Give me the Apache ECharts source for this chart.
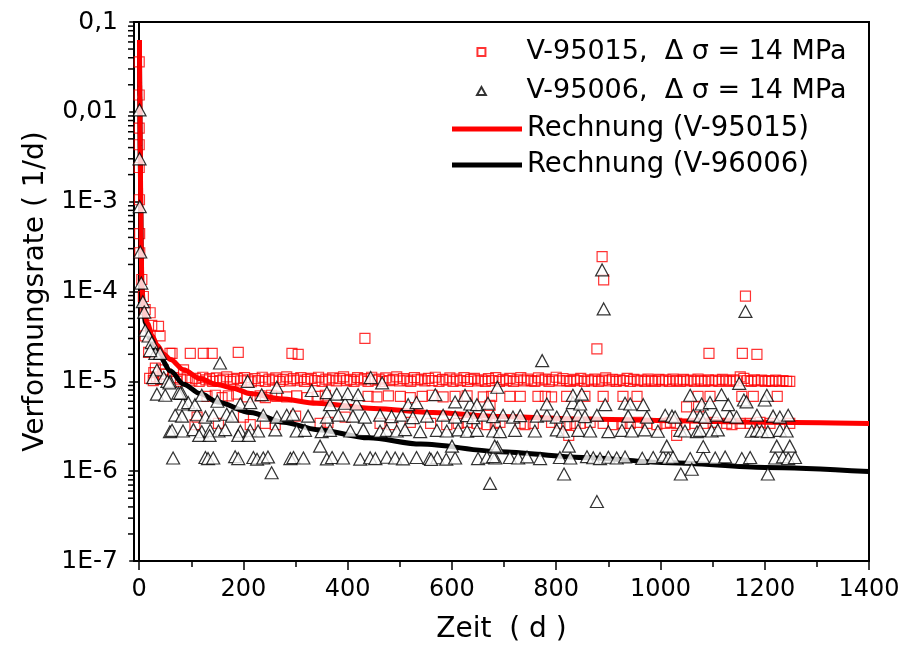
<!DOCTYPE html>
<html><head><meta charset="utf-8">
<script src="https://cdn.jsdelivr.net/npm/echarts@6/dist/echarts.min.js"></script>
<style>html,body{margin:0;padding:0;background:#fff}#c{width:905px;height:649px}</style>
</head><body><div id="c"></div>
<script>
// ---------- DATA ----------
const xTickValues = [0, 200, 400, 600, 800, 1000, 1200, 1400];
const xMinorTickValues = [100, 300, 500, 700, 900, 1100, 1300];
const yTickLabels = {'-1': '0,1', '-2': '0,01', '-3': '1E-3', '-4': '1E-4', '-5': '1E-5', '-6': '1E-6', '-7': '1E-7'};

const seriesNames = ['V-95015,  \u0394 \u03c3 = 14 MPa', 'V-95006,  \u0394 \u03c3 = 14 MPa', 'Rechnung (V-95015)', 'Rechnung (V-96006)'];

// red squares V-95015
const redEarly = [[0,0.036],[0,0.0154],[0,0.0066],[0,0.0043],[0,0.0024],[0.5,1.05e-3],[0.8,4.4e-4],[1,2.7e-4],[5,1.36e-4],[8,8.8e-5],[11.5,6.3e-5],[21,5.8e-5],[24,4.2e-5],[37,4.1e-5],[40,3.2e-5],[11.5,3.2e-5],[18,2.1e-5],[59,2.05e-5],[31,1.4e-5],[46,1.34e-5],[85,1.34e-5],[63,2.05e-5],[45,1.2e-5],[28,1.25e-5]];
const redBandHigh = [[20,1.08e-5],[27,1.02e-5],[33,1.12e-5],[41,1.05e-5],[52,1.2e-5],[66,1.1e-5],[72,1.0e-5],[79,1.06e-5],[92,1.1e-5],[101,1.03e-5],[108,1.08e-5],[115,1.0e-5],[122,1.11e-5],[128,1.04e-5],[135,1.07e-5],[141,1.0e-5],[148,1.09e-5],[155,1.02e-5],[161,1.06e-5],[168,1.12e-5],[175,1.0e-5],[181,1.05e-5],[188,1.08e-5],[195,1.01e-5],[202,1.1e-5],[208,1.04e-5],[215,0.99e-5],[222,1.07e-5],[229,1.02e-5],[236,1.11e-5],[242,1.0e-5],[249,1.06e-5],[256,1.03e-5],[262,1.09e-5],[269,1.0e-5],[276,1.05e-5],[283,1.12e-5],[290,1.01e-5],[296,1.07e-5],[303,1.03e-5],[310,1.1e-5],[317,1.0e-5],[323,1.05e-5],[330,1.08e-5],[337,1.02e-5],[344,1.11e-5],[351,1.0e-5],[358,1.06e-5],[364,1.03e-5],[371,1.09e-5],[378,1.01e-5],[385,1.07e-5],[392,1.12e-5],[398,1.02e-5],[405,1.05e-5],[412,1.0e-5],[419,1.1e-5],[426,1.04e-5],[432,1.07e-5],[439,1.0e-5],[446,1.11e-5],[453,1.03e-5],[460,1.06e-5],[466,1.0e-5],[473,1.09e-5],[480,1.02e-5],[487,1.05e-5],[494,1.12e-5],[500,1.01e-5],[507,1.07e-5],[514,1.03e-5],[521,1.0e-5],[528,1.1e-5],[534,1.04e-5],[541,1.06e-5],[548,1.01e-5],[555,1.08e-5],[562,1.02e-5],[568,1.11e-5],[575,1.0e-5],[582,1.05e-5],[589,1.03e-5],[596,1.09e-5],[602,1.0e-5],[609,1.06e-5],[616,1.02e-5],[623,1.1e-5],[630,1.0e-5],[636,1.05e-5],[643,1.08e-5],[650,1.01e-5],[657,1.04e-5],[664,1.0e-5],[670,1.07e-5],[677,1.02e-5],[684,1.1e-5],[691,1.0e-5],[698,1.05e-5],[704,1.02e-5],[711,1.08e-5],[718,1.0e-5],[725,1.04e-5],[732,1.1e-5],[738,1.01e-5],[745,1.06e-5],[752,1.02e-5],[759,1.0e-5],[766,1.09e-5],[772,1.03e-5],[779,1.06e-5],[786,1.0e-5],[793,1.04e-5],[800,1.11e-5],[806,1.01e-5],[813,1.07e-5],[820,1.02e-5],[827,1.0e-5],[834,1.05e-5],[840,1.02e-5],[847,1.08e-5],[854,1.0e-5],[861,1.04e-5],[868,1.01e-5],[874,1.06e-5],[881,1.0e-5],[888,1.03e-5],[895,1.09e-5],[902,1.01e-5],[908,1.05e-5],[915,1.0e-5],[922,1.04e-5],[929,1.02e-5],[936,1.08e-5],[942,1.0e-5],[949,1.05e-5],[956,1.01e-5],[963,1.03e-5],[970,1.0e-5],[976,1.06e-5],[983,1.02e-5],[990,1.0e-5],[997,1.05e-5],[1004,1.01e-5],[1010,1.04e-5],[1017,1.0e-5],[1024,1.06e-5],[1031,1.02e-5],[1038,1.0e-5],[1044,1.05e-5],[1051,1.01e-5],[1058,1.03e-5],[1065,1.0e-5],[1072,1.06e-5],[1078,1.02e-5],[1085,1.0e-5],[1092,1.04e-5],[1099,1.01e-5],[1106,1.03e-5],[1112,1.0e-5],[1119,1.05e-5],[1126,1.02e-5],[1133,1.0e-5],[1140,1.04e-5],[1146,1.01e-5],[1153,1.12e-5],[1160,1.08e-5],[1167,1.02e-5],[1174,1.0e-5],[1180,1.04e-5],[1187,1.01e-5],[1194,1.03e-5],[1201,1.0e-5],[1208,1.02e-5],[1214,1.0e-5],[1221,1.03e-5],[1228,1.0e-5],[1235,1.02e-5],[1242,1.0e-5],[1248,1.0e-5]];
const redBandMid = [[130,6.8e-6],[146,7.0e-6],[159,6.6e-6],[171,6.9e-6],[187,7.2e-6],[207,6.7e-6],[232,6.9e-6],[242,6.6e-6],[254,7.0e-6],[264,6.8e-6],[283,6.7e-6],[302,6.9e-6],[322,6.6e-6],[343,6.8e-6],[357,7.0e-6],[439,6.8e-6],[456,6.7e-6],[478,6.9e-6],[501,6.8e-6],[520,6.6e-6],[543,6.8e-6],[562,7.0e-6],[583,6.7e-6],[606,6.8e-6],[629,6.9e-6],[660,6.7e-6],[676,6.8e-6],[711,6.8e-6],[731,6.8e-6],[765,6.8e-6],[779,6.8e-6],[791,6.7e-6],[820,6.8e-6],[855,6.8e-6],[890,6.8e-6],[928,6.8e-6],[955,6.8e-6],[1072,6.8e-6],[1095,6.8e-6],[1156,6.8e-6],[1178,6.8e-6],[1224,6.8e-6]];
const redBandLow = [[107,3.3e-6],[152,3.4e-6],[213,3.3e-6],[242,3.4e-6],[261,3.3e-6],[347,3.4e-6],[362,3.5e-6],[462,3.4e-6],[484,3.3e-6],[520,3.5e-6],[559,3.4e-6],[590,3.3e-6],[612,3.4e-6],[629,3.5e-6],[648,3.4e-6],[667,3.3e-6],[683,3.4e-6],[692,3.5e-6],[731,3.4e-6],[740,3.3e-6],[756,3.4e-6],[791,3.5e-6],[807,3.4e-6],[820,3.3e-6],[836,3.4e-6],[846,3.4e-6],[865,3.5e-6],[890,3.4e-6],[909,3.3e-6],[926,3.4e-6],[942,3.4e-6],[957,3.5e-6],[974,3.4e-6],[993,3.3e-6],[1009,3.4e-6],[1019,3.5e-6],[1031,3.4e-6],[1047,3.3e-6],[1066,3.4e-6],[1086,3.4e-6],[1101,3.5e-6],[1127,3.4e-6],[1137,3.3e-6],[1153,3.4e-6],[1172,3.4e-6],[1191,3.5e-6],[1210,3.4e-6],[1248,3.4e-6],[111,4.0e-6],[200,4.0e-6],[300,4.1e-6],[395,4.0e-6],[673,5.4e-6],[1050,5.2e-6],[1073,5.2e-6],[824,2.5e-6],[1031,2.5e-6]];
const redOutliers = [[98,2.05e-5],[123,2.05e-5],[140,2.05e-5],[190,2.1e-5],[293,2.05e-5],[305,2.0e-5],[433,3.0e-5],[888,2.45e-4],[891,1.35e-4],[878,2.3e-5],[1093,2.05e-5],[1157,2.05e-5],[1185,2.0e-5],[1163,8.9e-5]];

// black triangles V-95006
const blackEarly = [[0.6,0.0105],[0.6,0.003],[1,8.8e-4],[2,2.75e-4],[4,1.24e-4],[7,7.7e-5],[9.6,5.9e-5],[11.5,3.7e-5],[18,3.2e-5],[24,2.7e-5],[31,2.05e-5],[40,2.05e-5],[34,1.34e-5],[47,1.1e-5],[59,1.0e-5],[82,7.4e-6],[21,2.2e-5],[27,1.1e-5],[75,7.4e-6],[59,2.75e-6],[65,1.4e-6]];
const blackBand1 = [[127,1.42e-6],[132,1.38e-6],[142,1.4e-6],[184,1.45e-6],[190,1.38e-6],[219,1.42e-6],[226,1.36e-6],[238,1.4e-6],[247,1.44e-6],[290,1.38e-6],[296,1.42e-6],[315,1.4e-6],[360,1.37e-6],[370,1.42e-6],[391,1.4e-6],[424,1.36e-6],[443,1.41e-6],[453,1.38e-6],[475,1.43e-6],[491,1.4e-6],[506,1.37e-6],[532,1.42e-6],[557,1.39e-6],[572,1.41e-6],[589,1.36e-6],[606,1.4e-6],[650,1.38e-6],[667,1.43e-6],[683,1.4e-6],[679,1.45e-6],[711,1.42e-6],[727,1.4e-6],[744,1.44e-6],[769,1.38e-6],[807,1.42e-6],[827,1.4e-6],[859,1.45e-6],[871,1.41e-6],[884,1.38e-6],[900,1.43e-6],[916,1.4e-6],[932,1.44e-6],[965,1.39e-6],[986,1.42e-6],[1005,1.45e-6],[1015,1.4e-6],[1024,1.43e-6],[1057,1.38e-6],[1082,1.42e-6],[1105,1.4e-6],[1124,1.44e-6],[1156,1.38e-6],[1172,1.42e-6],[1220,1.4e-6],[1235,1.44e-6],[1245,1.38e-6],[1258,1.42e-6]];
const blackBand15 = [[347,1.9e-6],[600,1.9e-6],[687,1.85e-6],[682,1.9e-6],[824,1.9e-6],[1012,1.9e-6],[1082,1.88e-6],[1223,1.9e-6],[1248,1.9e-6],[560,1.35e-6]];
const blackBand2 = [[63,2.85e-6],[84,2.8e-6],[104,2.9e-6],[120,2.75e-6],[136,2.85e-6],[152,2.8e-6],[165,2.9e-6],[194,2.78e-6],[213,2.85e-6],[228,2.8e-6],[261,2.88e-6],[302,2.8e-6],[318,2.85e-6],[350,2.75e-6],[366,2.85e-6],[405,2.8e-6],[430,2.9e-6],[462,2.78e-6],[475,2.85e-6],[494,2.8e-6],[510,2.9e-6],[539,2.75e-6],[571,2.85e-6],[590,2.8e-6],[612,2.88e-6],[629,2.78e-6],[648,2.85e-6],[679,2.8e-6],[692,2.75e-6],[721,2.85e-6],[759,2.8e-6],[801,2.88e-6],[813,2.78e-6],[842,2.85e-6],[865,2.8e-6],[900,2.75e-6],[926,2.85e-6],[945,2.8e-6],[970,2.88e-6],[995,2.78e-6],[1038,2.85e-6],[1047,2.8e-6],[1070,2.75e-6],[1076,2.85e-6],[1098,2.8e-6],[1110,2.88e-6],[1175,2.78e-6],[1185,2.85e-6],[1194,2.8e-6],[1206,2.75e-6],[1229,2.85e-6],[1242,2.8e-6],[115,2.5e-6],[135,2.5e-6],[190,2.5e-6],[210,2.5e-6]];
const blackBand3 = [[69,4.2e-6],[82,4.1e-6],[111,4.25e-6],[127,4.0e-6],[142,4.2e-6],[168,4.3e-6],[178,4.1e-6],[238,4.2e-6],[264,4.0e-6],[283,4.2e-6],[295,4.3e-6],[324,4.1e-6],[360,4.0e-6],[382,4.2e-6],[410,4.1e-6],[433,4.0e-6],[462,4.2e-6],[484,4.05e-6],[503,4.2e-6],[525,3.95e-6],[552,4.1e-6],[583,4.2e-6],[606,4.0e-6],[629,4.15e-6],[641,3.95e-6],[660,4.2e-6],[679,4.05e-6],[698,4.2e-6],[717,4.0e-6],[731,4.15e-6],[763,4.1e-6],[782,4.2e-6],[801,4.0e-6],[820,4.15e-6],[842,4.2e-6],[855,4.05e-6],[878,4.2e-6],[938,4.1e-6],[974,4.0e-6],[1009,4.2e-6],[1022,4.1e-6],[1028,4.0e-6],[1063,4.2e-6],[1076,4.1e-6],[1086,4.0e-6],[1108,4.2e-6],[1133,4.1e-6],[1146,4.0e-6],[1185,4.2e-6],[1216,4.1e-6],[1229,4.0e-6],[1245,4.2e-6]];
const blackBand4 = [[84,5.6e-6],[94,5.8e-6],[107,5.5e-6],[150,6.0e-6],[194,5.6e-6],[213,5.8e-6],[366,5.5e-6],[395,5.7e-6],[417,5.6e-6],[516,5.5e-6],[532,5.8e-6],[606,5.9e-6],[635,5.6e-6],[648,5.5e-6],[669,5.7e-6],[782,5.6e-6],[832,5.8e-6],[846,5.6e-6],[894,5.5e-6],[932,5.7e-6],[942,5.6e-6],[967,5.5e-6],[1079,5.6e-6],[1095,5.8e-6],[1130,5.5e-6],[1160,6.2e-6],[1200,6.2e-6]];
const blackBand5 = [[34,7.2e-6],[50,7.0e-6],[79,7.4e-6],[120,7.0e-6],[235,7.1e-6],[331,7.9e-6],[360,7.5e-6],[379,7.2e-6],[400,7.3e-6],[420,7.1e-6],[568,7.1e-6],[625,7.0e-6],[832,7.0e-6],[849,7.2e-6],[1057,7.0e-6],[1117,7.1e-6],[1165,5.9e-6],[1204,7.0e-6]];
const blackBand6 = [[54,1.0e-5],[58,9.6e-6],[208,1.0e-5],[264,8.6e-6],[444,1.1e-5],[466,9.6e-6],[687,8.6e-6],[1151,9.5e-6]];
const blackOutliers = [[888,1.74e-4],[891,6.4e-5],[1163,6.0e-5],[773,1.7e-5],[155,1.6e-5],[254,9.6e-7],[673,7.3e-7],[815,9.3e-7],[878,4.6e-7],[1039,9.3e-7],[1206,9.3e-7],[1060,1.05e-6]];

// calculated curves
const redCurve = [[0.5,0.063],[1,0.02],[2,0.004],[3,9e-4],[4,2.8e-4],[5,1.2e-4],[8,7e-5],[12,5.2e-5],[16,4.4e-5],[25,3.2e-5],[35,2.5e-5],[47,2e-5],[60,1.75e-5],[85,1.35e-5],[117,1.07e-5],[150,9.2e-6],[180,8.4e-6],[213,7.3e-6],[270,6.4e-6],[340,5.7e-6],[450,5e-6],[564,4.5e-6],[692,4.05e-6],[850,3.8e-6],[1018,3.65e-6],[1200,3.5e-6],[1400,3.4e-6]];
const blackCurve = [[0.5,0.05],[1,0.015],[2,0.003],[3,8e-4],[4,2.5e-4],[5,1.1e-4],[8,6.5e-5],[12,4.5e-5],[20,3e-5],[30,2.3e-5],[40,1.85e-5],[60,1.3e-5],[85,9.3e-6],[117,7.3e-6],[150,5.9e-6],[213,4.5e-6],[277,3.5e-6],[341,2.9e-6],[440,2.35e-6],[540,2.0e-6],[692,1.65e-6],[850,1.42e-6],[1018,1.24e-6],[1200,1.1e-6],[1400,0.99e-6]];

// ---------- CHART ----------
const X_MIN = -10, X_MAX = 1400;
const yMinorTicks = [];
for (let e = -7; e < -1; e++) for (let m = 2; m <= 9; m++) yMinorTicks.push([X_MIN, m * Math.pow(10, e)]);

const FONT = 'DejaVu Sans';
const chart = echarts.init(document.getElementById('c'), null, {renderer: 'canvas'});
const redPoints = [].concat(redEarly, redBandHigh, redBandMid, redBandLow, redOutliers);
const blackPoints = [].concat(blackEarly, blackBand1, blackBand15, blackBand2, blackBand3, blackBand4, blackBand5, blackBand6, blackOutliers);

chart.setOption({
  animation: false,
  backgroundColor: '#fff',
  grid: {left: 134, right: 36, top: 22, bottom: 88, show: true, borderColor: '#000', borderWidth: 2, backgroundColor: 'transparent'},
  legend: [
    {orient: 'vertical', left: 471, top: 32, itemWidth: 70, itemHeight: 8, itemGap: 9, selectedMode: false,
     textStyle: {fontFamily: FONT, fontSize: 27, color: '#000', lineHeight: 30, padding: [0, 0, 0, 5]},
     data: [{name: seriesNames[0], icon: 'path://M0,0H10V10H0Z'}, {name: seriesNames[1], icon: 'path://M5,0L10,9L0,9Z'}]},
    {orient: 'vertical', left: 447, top: 109, itemWidth: 70, itemHeight: 10, itemGap: 6, selectedMode: false,
     textStyle: {fontFamily: FONT, fontSize: 27.5, color: '#000', lineHeight: 30},
     data: [{name: seriesNames[2], icon: 'path://M0,0H70V5H0Z'}, {name: seriesNames[3], icon: 'path://M0,0H70V5H0Z'}]}
  ],
  xAxis: [
    {type: 'value', min: X_MIN, max: X_MAX, position: 'bottom',
     name: 'Zeit  ( d )', nameLocation: 'middle', nameGap: 55,
     nameTextStyle: {fontFamily: FONT, fontSize: 28, color: '#000'},
     axisLine: {lineStyle: {color: '#000', width: 2}},
     axisTick: {customValues: xTickValues, length: 9, inside: false, lineStyle: {color: '#000', width: 1.5}},
     axisLabel: {customValues: xTickValues, fontFamily: FONT, fontSize: 24, color: '#000', margin: 17,
       formatter: v => String(v)},
     splitLine: {show: false}},
    {type: 'value', min: X_MIN, max: X_MAX, position: 'bottom',
     axisLine: {show: false},
     axisTick: {customValues: xMinorTickValues, length: 6, inside: false, lineStyle: {color: '#000', width: 1.5}},
     axisLabel: {show: false}, splitLine: {show: false}}
  ],
  yAxis: [
    {type: 'log', logBase: 10, min: 1e-7, max: 0.1, interval: 1, splitNumber: 6,
     name: 'Verformungsrate ( 1/d)', nameLocation: 'middle', nameGap: 84,
     nameTextStyle: {fontFamily: FONT, fontSize: 28, color: '#000'},
     axisLine: {lineStyle: {color: '#000', width: 2}},
     axisTick: {length: 10, inside: false, lineStyle: {color: '#000', width: 1.5}},
     axisLabel: {fontFamily: FONT, fontSize: 25, color: '#000', margin: 16,
       formatter: v => yTickLabels[String(Math.round(Math.log10(v)))] || ''},
     splitLine: {show: false}, minorTick: {show: false}}
  ],
  series: [
    {name: seriesNames[0], type: 'scatter', z: 2, data: redPoints, symbol: 'rect', symbolSize: 10,
     itemStyle: {color: 'rgba(255,255,255,0)', borderColor: '#ff0000', borderWidth: 1.2}, silent: true},
    {name: seriesNames[3], type: 'line', z: 3, data: blackCurve, symbol: 'none', showSymbol: false, smooth: 0.3, smoothMonotone: 'x',
     lineStyle: {color: '#000', width: 5}, itemStyle: {color: '#000'}, silent: true},
    {name: seriesNames[2], type: 'line', z: 4, data: redCurve, symbol: 'none', showSymbol: false, smooth: 0.3, smoothMonotone: 'x',
     lineStyle: {color: '#ff0000', width: 5}, itemStyle: {color: '#ff0000'}, silent: true},
    {name: seriesNames[1], type: 'scatter', z: 5, data: blackPoints, symbol: 'triangle', symbolSize: [13, 12],
     itemStyle: {color: '#fff', borderColor: '#000', borderWidth: 1.2}, silent: true},
    {type: 'custom', z: 6, silent: true, clip: false, data: yMinorTicks,
     renderItem: (params, api) => {
       const p = api.coord([api.value(0), api.value(1)]);
       return {type: 'line', shape: {x1: p[0] - 6, y1: p[1], x2: p[0], y2: p[1]}, style: {stroke: '#000', lineWidth: 1.5}};
     }}
  ]
});
</script></body></html>
